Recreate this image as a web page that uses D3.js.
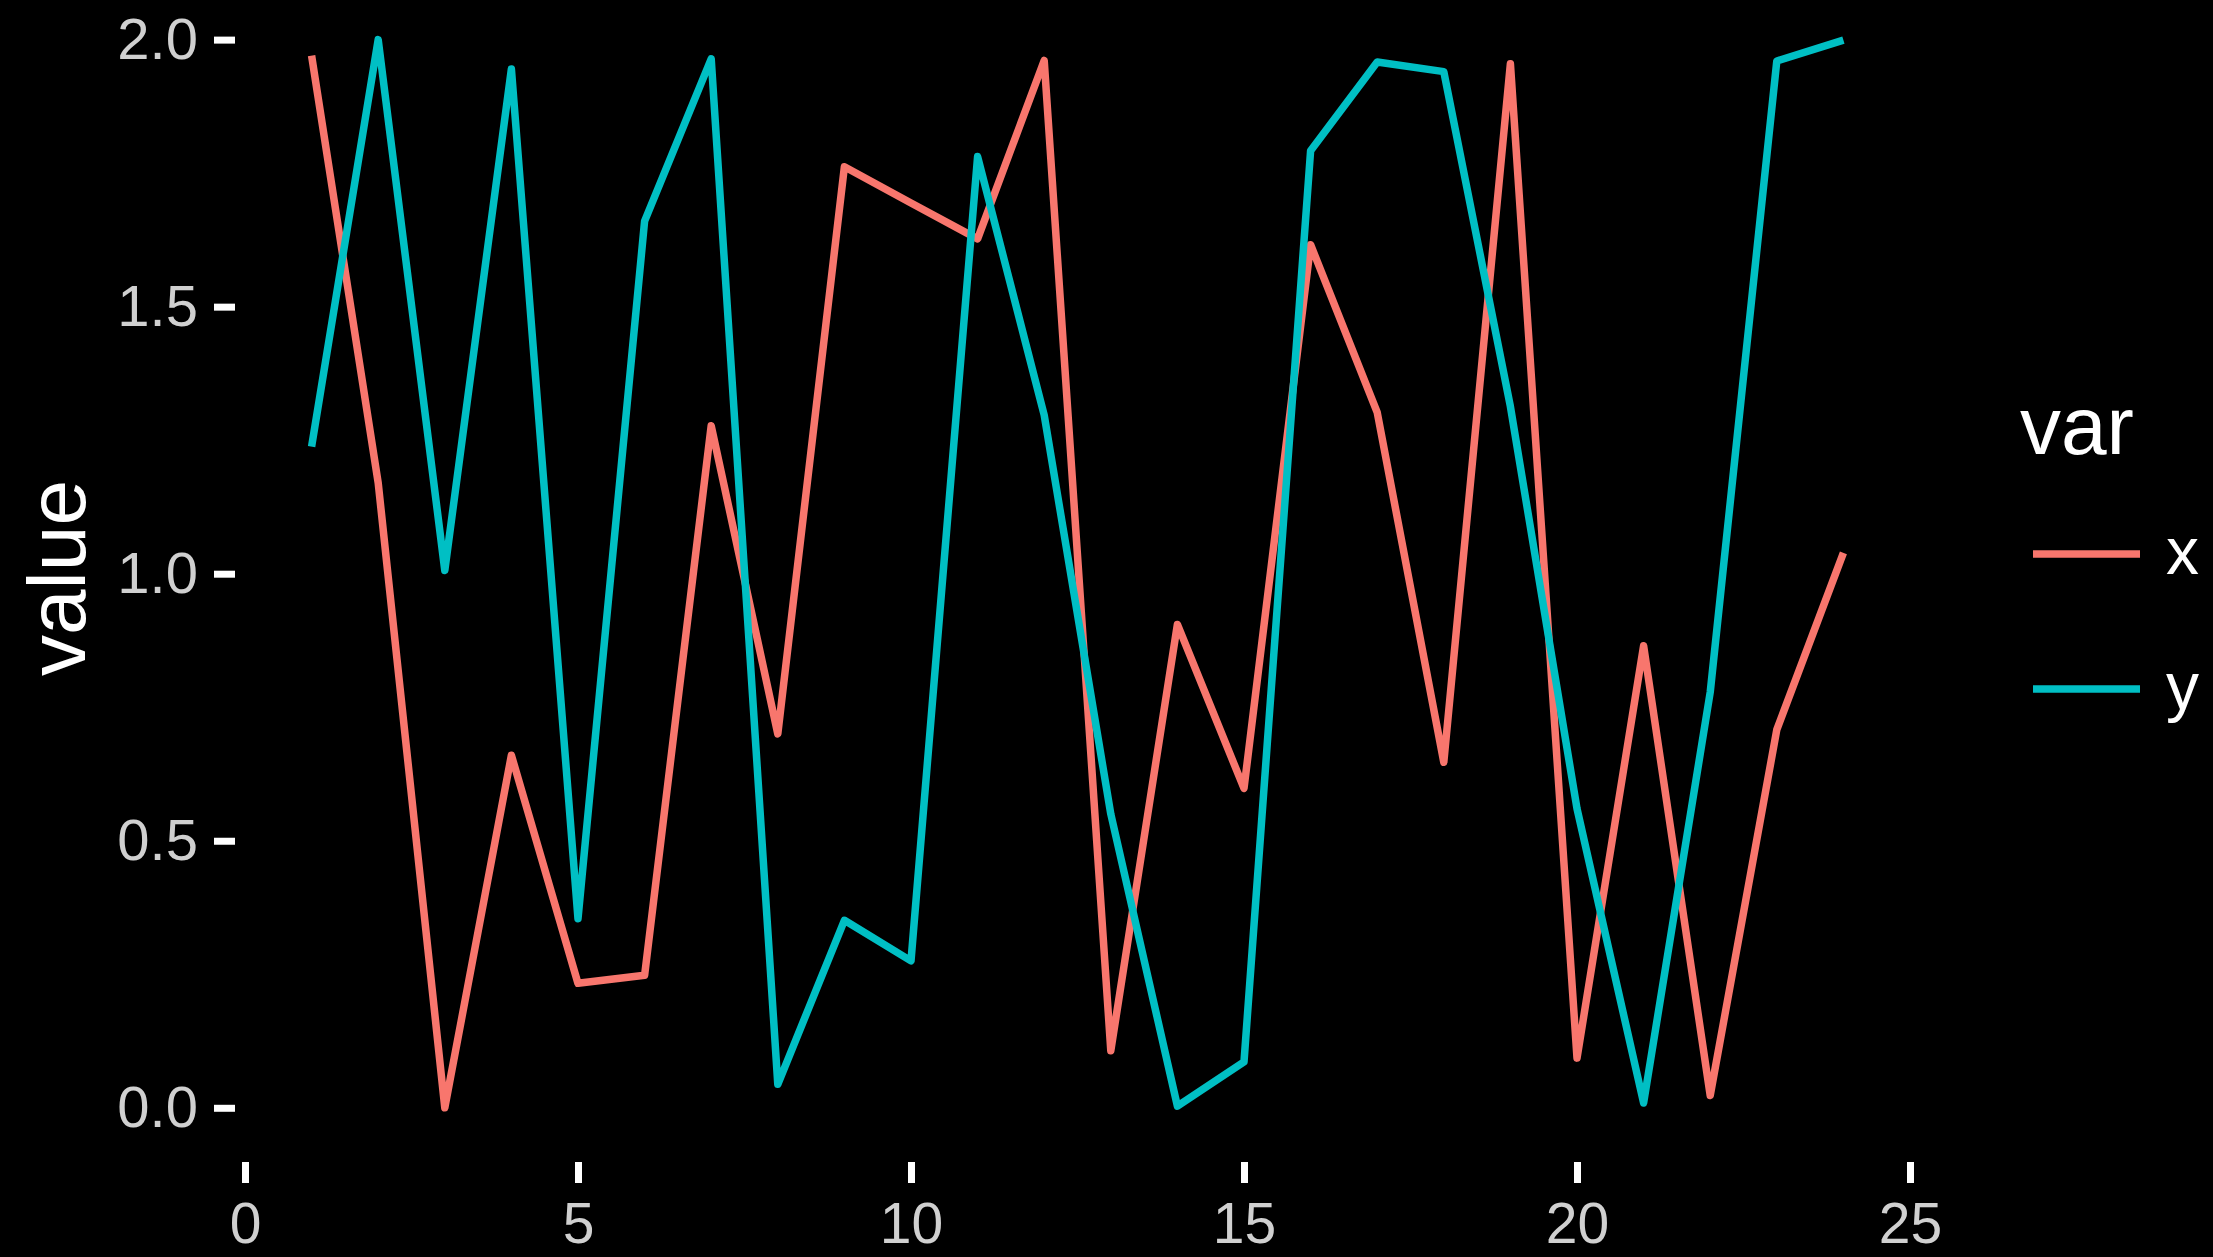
<!DOCTYPE html>
<html>
<head>
<meta charset="utf-8">
<script src="https://cdn.jsdelivr.net/npm/d3@7"></script>
<style>
  html, body { margin: 0; padding: 0; background: #000; }
  svg { display: block; }
</style>
</head>
<body>
<svg id="chart" width="2213" height="1257"></svg>
<script>
const indexValues = [1,2,3,4,5,6,7,8,9,10,11,12,13,14,15,16,17,18,19,20,21,22,23,24];
const xSeries = [1.97,1.17,0.0,0.66,0.233,0.248,1.277,0.70,1.762,1.694,1.627,1.961,0.107,0.905,0.598,1.616,1.302,0.647,1.955,0.093,0.865,0.023,0.708,1.039];
const ySeries = [1.238,2.0,1.006,1.945,0.354,1.66,1.964,0.044,0.351,0.275,1.781,1.297,0.55,0.003,0.086,1.792,1.958,1.94,1.313,0.56,0.009,0.778,1.96,1.999];
const seriesNames = ["x", "y"];
const seriesColors = ["#F8766D", "#00BFC4"];
const xTicks = [0, 5, 10, 15, 20, 25];
const yTicks = [0.0, 0.5, 1.0, 1.5, 2.0];
const yTitle = "value";
const legendTitle = "var";

const svg = d3.select("#chart");
svg.append("rect").attr("width", 2213).attr("height", 1257).attr("fill", "#000");

const x = d3.scaleLinear().domain([-0.15, 25.15]).range([235, 1920]);
const y = d3.scaleLinear().domain([-0.1, 2.1]).range([1161.2, -13.8]);

const font = "'Liberation Sans', Arial, Helvetica, sans-serif";

// Y axis
const yAxis = svg.append("g").attr("transform", "translate(235,0)")
  .call(d3.axisLeft(y).tickValues(yTicks).tickFormat(d3.format(".1f")).tickSize(21).tickPadding(16));
yAxis.select(".domain").remove();
yAxis.selectAll(".tick line").attr("stroke", "#ffffff").attr("stroke-width", 7);
yAxis.selectAll(".tick text").attr("fill", "#d0d0d0").attr("font-size", 58).attr("font-family", font);

// X axis
const xAxis = svg.append("g").attr("transform", "translate(0,1162)")
  .call(d3.axisBottom(x).tickValues(xTicks).tickFormat(d3.format("d")).tickSize(21).tickPadding(20));
xAxis.select(".domain").remove();
xAxis.selectAll(".tick line").attr("stroke", "#ffffff").attr("stroke-width", 7);
xAxis.selectAll(".tick text").attr("fill", "#d0d0d0").attr("font-size", 57).attr("font-family", font);

// Lines
const line = d3.line().x((d, i) => x(indexValues[i])).y(d => y(d));
[xSeries, ySeries].forEach((s, k) => {
  svg.append("path").datum(s)
    .attr("d", line)
    .attr("fill", "none")
    .attr("stroke", seriesColors[k])
    .attr("stroke-width", 7.5)
    .attr("stroke-linejoin", "round")
    .attr("stroke-linecap", "butt");
});

// Y title
svg.append("text")
  .attr("transform", "translate(85,578) rotate(-90)")
  .attr("text-anchor", "middle")
  .attr("fill", "#ffffff")
  .attr("font-size", 82)
  .attr("font-family", font)
  .text(yTitle);

// Legend
svg.append("text")
  .attr("x", 2020).attr("y", 454)
  .attr("fill", "#ffffff")
  .attr("font-size", 82)
  .attr("font-family", font)
  .text(legendTitle);

const legendY = d3.scalePoint().domain(seriesNames).range([554, 689]);
seriesNames.forEach((n, k) => {
  const ly = legendY(n);
  svg.append("line")
    .attr("x1", 2033).attr("x2", 2140)
    .attr("y1", ly).attr("y2", ly)
    .attr("stroke", seriesColors[k]).attr("stroke-width", 7.5);
  svg.append("text")
    .attr("x", 2166).attr("y", ly)
    .attr("dy", "0.3em")
    .attr("fill", "#ffffff")
    .attr("font-size", 66)
    .attr("font-family", font)
    .text(n);
});
</script>
</body>
</html>
